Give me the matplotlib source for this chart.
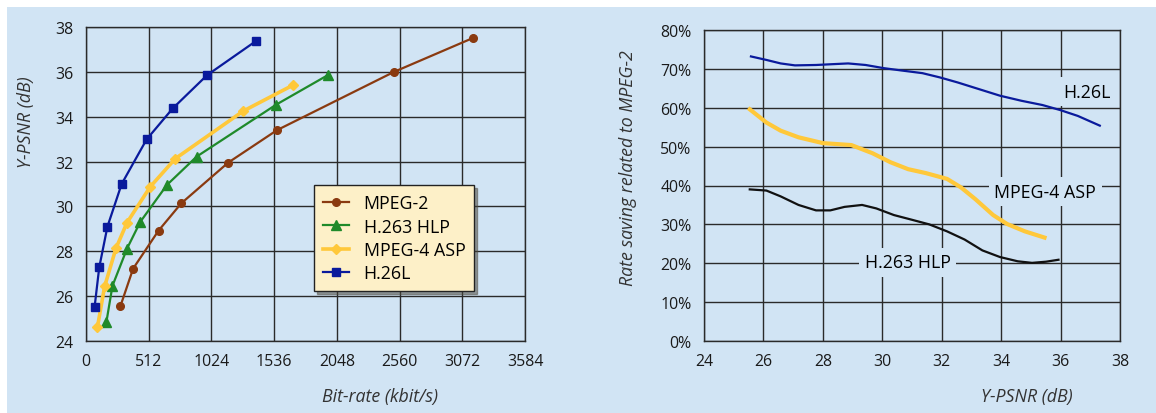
import matplotlib.pyplot as plt
from matplotlib.patches import Rectangle

# left chart: bit-rate (kbit/s) vs Y-PSNR (dB)
mpeg2_rate = [280, 385, 592, 778, 1160, 1559, 2515, 3159]
mpeg2_psnr = [25.54, 27.23, 28.92, 30.14, 31.95, 33.4, 36.0, 37.51]
h263_rate = [166, 216, 335, 443, 661, 903, 1553, 1973]
h263_psnr = [24.83, 26.46, 28.12, 29.31, 30.96, 32.22, 34.54, 35.85]
mpeg4_rate = [93, 152, 245, 335, 525, 729, 1283, 1687]
mpeg4_psnr = [24.61, 26.43, 28.14, 29.28, 30.88, 32.13, 34.25, 35.4]
h26l_rate = [70, 108, 175, 291, 495, 708, 988, 1384]
h26l_psnr = [25.51, 27.28, 29.1, 31.0, 32.99, 34.37, 35.85, 37.36]

# right chart: rate saving relative to MPEG-2 (%)
h26l_x = [25.58, 26.1, 26.58, 27.06, 27.77, 28.3, 28.85, 29.44, 30.04, 30.63, 31.35, 31.94,
          32.54, 33.25, 33.96, 34.68, 35.39, 35.99, 36.58, 37.32]
h26l_y = [73.2, 72.3, 71.4, 70.9, 71.0, 71.2, 71.4, 71.0, 70.2, 69.6, 68.9, 67.8,
          66.5, 64.8, 63.1, 61.8, 60.7, 59.4, 57.9, 55.4]
mpeg4_x = [25.54, 26.1, 26.58, 27.18, 28.0, 28.96, 29.67, 30.27, 30.87, 31.46, 32.18, 32.65,
           33.13, 33.73, 34.2, 34.8, 35.46]
mpeg4_y = [59.6, 56.2, 54.1, 52.4, 50.9, 50.4, 48.3, 46.0, 44.2, 43.2, 41.7, 39.5,
           36.5, 32.4, 30.1, 28.2, 26.6]
h263_x = [25.54, 26.1, 26.58, 27.18, 27.77, 28.25, 28.73, 29.32, 29.8, 30.39, 30.99, 31.58,
          32.18, 32.77, 33.37, 33.96, 34.56, 35.04, 35.51, 35.93]
h263_y = [39.0, 38.7, 37.2, 35.0, 33.6, 33.6, 34.5, 35.0, 34.1, 32.4, 31.2, 30.0,
          28.2, 26.1, 23.3, 21.6, 20.5, 20.1, 20.4, 20.9]

bg = '#d1e4f4'
c_brown, c_green, c_yellow, c_blue = '#8a3a10', '#1f8a2a', '#ffc83a', '#0a1a9c'

plt.rcParams['font.family'] = ['Open Sans', 'DejaVu Sans']
plt.rcParams['font.size'] = 11.4

fig = plt.figure(figsize=(11.56, 4.14), dpi=100)
fig.patches.append(Rectangle((7 / 1156, 0), 1, 1 - 8 / 414, transform=fig.transFigure,
                             facecolor=bg, edgecolor='none', zorder=-10))

ax1 = fig.add_axes([86 / 1156, 1 - 342 / 414, 439 / 1156, 314 / 414])
ax2 = fig.add_axes([704 / 1156, 1 - 342 / 414, 416 / 1156, 311 / 414])

for ax in (ax1, ax2):
    ax.set_facecolor(bg)
    ax.grid(True, color='#2a2a2a', linewidth=1.0)
    ax.set_axisbelow(True)
    ax.tick_params(length=0, pad=9, colors='#1a1a1a')
    for s in ax.spines.values():
        s.set_color('#2a2a2a')
        s.set_linewidth(1.0)

ax1.plot(mpeg2_rate, mpeg2_psnr, color=c_brown, lw=1.6, marker='o', ms=5.5, label='MPEG-2')
ax1.plot(h263_rate, h263_psnr, color=c_green, lw=1.6, marker='^', ms=6.5, label='H.263 HLP')
ax1.plot(mpeg4_rate, mpeg4_psnr, color=c_yellow, lw=2.6, marker='D', ms=5, label='MPEG-4 ASP')
ax1.plot(h26l_rate, h26l_psnr, color=c_blue, lw=1.6, marker='s', ms=6, label='H.26L')
ax1.set_xlim(0, 3584)
ax1.set_ylim(24, 38)
ax1.set_xticks(range(0, 3585, 512))
ax1.set_yticks(range(24, 39, 2))
ax1.set_xlabel('Bit-rate (kbit/s)', style='italic', color='#333333', fontsize=12.8)
ax1.xaxis.set_label_coords(0.67, -0.148)
ax1.set_ylabel('Y-PSNR (dB)', style='italic', color='#333333', fontsize=12.8)
ax1.yaxis.set_label_coords(-0.117, 0.70)
leg = ax1.legend(loc='lower left', bbox_to_anchor=(0.519, 0.159), borderaxespad=0,
                 fancybox=False, shadow=True, facecolor='#fdf0c8', edgecolor='#222222',
                 framealpha=1, fontsize=12.8, handlelength=1.5, borderpad=0.5,
                 labelspacing=0.3, handletextpad=0.8)
leg.get_frame().set_linewidth(1.0)

ax2.plot(h26l_x, h26l_y, color=c_blue, lw=1.6)
ax2.plot(mpeg4_x, mpeg4_y, color=c_yellow, lw=3.0)
ax2.plot(h263_x, h263_y, color='#111111', lw=1.6)
ax2.set_xlim(24, 38)
ax2.set_ylim(0, 80)
ax2.set_xticks(range(24, 39, 2))
ax2.set_yticks(range(0, 81, 10))
ax2.set_yticklabels([f'{v}%' for v in range(0, 81, 10)])
ax2.set_xlabel('Y-PSNR (dB)', style='italic', color='#333333', fontsize=12.8)
ax2.xaxis.set_label_coords(0.776, -0.148)
ax2.set_ylabel('Rate saving related to MPEG-2', style='italic', color='#333333', fontsize=12.8)
ax2.yaxis.set_label_coords(-0.162, 0.56)

box = dict(facecolor=bg, edgecolor='none', pad=4)
ax2.text(36.9, 64.1, 'H.26L', ha='center', va='center', fontsize=12.8, bbox=box)
ax2.text(35.48, 38.4, 'MPEG-4 ASP', ha='center', va='center', fontsize=12.8, bbox=box)
ax2.text(30.85, 20.2, 'H.263 HLP', ha='center', va='center', fontsize=12.8, bbox=box)

fig.savefig('out.png', dpi=100)
